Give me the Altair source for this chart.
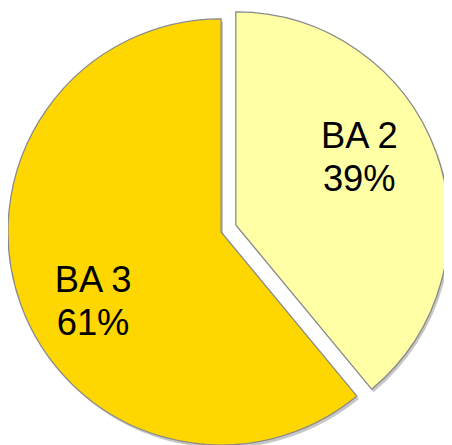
import altair as alt
import pandas as pd

categories = ["BA 2", "BA 3"]
values = [39, 61]
pct_labels = ["39%", "61%"]
colors = ["#FFFFA6", "#FFD700"]

df = pd.DataFrame({
    "category": categories,
    "value": values,
    "label": [f"{c}\n{p}" for c, p in zip(categories, pct_labels)],
    "idx": list(range(len(categories))),
})

R = 217
# pie centres (chart coordinates); BA 2 is pulled out from the pie
centers = {"BA 2": (232, 217), "BA 3": (217, 224)}
label_adjust = {"BA 2": (-6, -42), "BA 3": (7, 1)}
label_r = {"BA 2": 140, "BA 3": 146}

base = alt.Chart(df).encode(
    theta=alt.Theta("value:Q", stack=True),
    order=alt.Order("idx:Q"),
)

layers = []
# shadows
for cat in categories:
    cx, cy = centers[cat]
    layers.append(
        base.mark_arc(outerRadius=R, fill="#000000").encode(
            x=alt.value(cx + 2), y=alt.value(cy + 3),
            opacity=alt.condition(alt.datum.category == cat, alt.value(0.22), alt.value(0)),
        )
    )
# slices
for cat in categories:
    cx, cy = centers[cat]
    layers.append(
        base.mark_arc(outerRadius=R, stroke="#8a8a8a", strokeWidth=1.3).encode(
            x=alt.value(cx), y=alt.value(cy),
            color=alt.Color("category:N", scale=alt.Scale(domain=categories, range=colors), legend=None),
            opacity=alt.condition(alt.datum.category == cat, alt.value(1), alt.value(0)),
        )
    )
# labels
for cat in categories:
    cx, cy = centers[cat]
    ddx, ddy = label_adjust[cat]
    layers.append(
        base.mark_text(
            radius=label_r[cat], font="Liberation Sans", fontSize=37, lineHeight=44,
            lineBreak="\n", color="black", align="center", baseline="middle", dx=ddx, dy=ddy,
        ).encode(
            x=alt.value(cx), y=alt.value(cy),
            text="label:N",
            opacity=alt.condition(alt.datum.category == cat, alt.value(1), alt.value(0)),
        )
    )

chart = alt.layer(*layers).properties(
    width=444, height=437,
    autosize=alt.AutoSizeParams(type="none"),
    padding=0,
).configure_view(stroke=None)

chart.save("out.html", embed_options={"renderer": "svg", "actions": False})
